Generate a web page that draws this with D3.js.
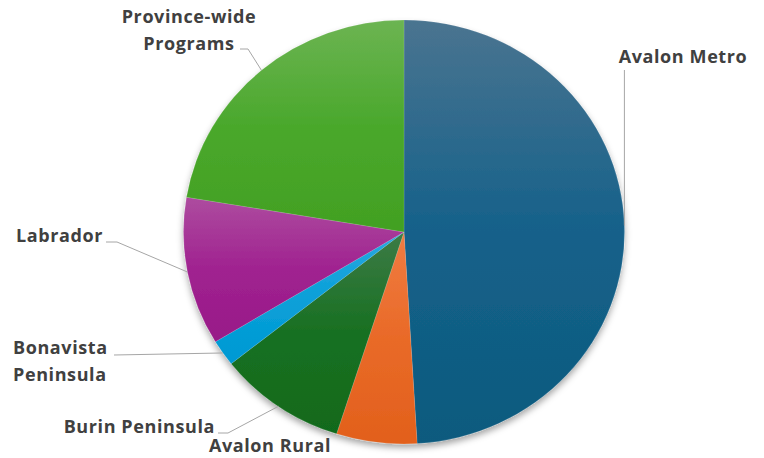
<!DOCTYPE html>
<html lang="en">
<head>
<meta charset="UTF-8">
<title>Pie chart</title>
<style>
  body { margin: 0; background: #fff; }
  svg { display: block; }
  .lbl { font-family: 'Open Sans', sans-serif; font-weight: 700; font-size: 18px; letter-spacing: 0.6px; fill: #404040; }
  .leader { fill: none; stroke: #a6a6a6; stroke-width: 1; }
</style>
</head>
<body>
<div id="chart"></div>
<script src="https://d3js.org/d3.v7.min.js"></script>
<script>
// data (percent of total, clockwise from 12 o'clock)
const categories = ["Avalon Metro", "Avalon Rural", "Burin Peninsula", "Bonavista Peninsula", "Labrador", "Province-wide Programs"];
const values = [49.1, 5.9, 9.4, 2.0, 11.3, 22.4];
const labelLines = [["Avalon Metro"], ["Avalon Rural"], ["Burin Peninsula"], ["Bonavista", "Peninsula"], ["Labrador"], ["Province-wide", "Programs"]];

// colours: top, middle, bottom of each slice gradient
const colors = [
  ["#4a7490", "#15618a", "#0c5a7e"],
  ["#f07c42", "#e96a28", "#e2601c"],
  ["#3d7b46", "#187022", "#116a1b"],
  ["#2aa8e0", "#0aa0d8", "#0099d3"],
  ["#ad4c9f", "#a02290", "#981a88"],
  ["#6cb452", "#4aa82c", "#42a022"]
];

// label layout: text anchor point, alignment, elbow
const labelLayout = [
  { x: 683, y: 63, anchor: "middle", vertical: true },
  { x: 270, y: 452, anchor: "middle", none: true },
  { x: 215, y: 433, anchor: "end", elbow: [228, 433] },
  { x: 13, y: 354, anchor: "start", elbow: [114, 355] },
  { x: 103, y: 242, anchor: "end", elbow: [117, 242] },
  { x: 189, y: 23, anchor: "middle", elbow: [248, 49], start: [240, 49] }
];

const W = 764, H = 458;
const cx = 404, cy = 232, rx = 220.5, ry = 212;

const svg = d3.select("#chart").append("svg")
  .attr("width", W).attr("height", H);

const defs = svg.append("defs");
const shadow = defs.append("filter").attr("id", "shadow")
  .attr("x", "-10%").attr("y", "-10%").attr("width", "120%").attr("height", "125%");
shadow.append("feDropShadow")
  .attr("dx", 0).attr("dy", 4).attr("stdDeviation", 3.5)
  .attr("flood-color", "#000").attr("flood-opacity", 0.35);

colors.forEach((c, i) => {
  const g = defs.append("linearGradient").attr("id", "grad" + i)
    .attr("x1", 0).attr("y1", 0).attr("x2", 0).attr("y2", 1);
  g.append("stop").attr("offset", "0%").attr("stop-color", c[0]);
  g.append("stop").attr("offset", "50%").attr("stop-color", c[1]);
  g.append("stop").attr("offset", "100%").attr("stop-color", c[2]);
});

const pie = d3.pie().sort(null).value(d => d)(values);
const arc = d3.arc().innerRadius(0).outerRadius(rx);

const pieG = svg.append("g")
  .attr("transform", `translate(${cx},${cy}) scale(1,${ry / rx})`)
  .attr("filter", "url(#shadow)");

pieG.selectAll("path")
  .data(pie)
  .enter()
  .append("path")
  .attr("d", arc)
  .attr("fill", (d, i) => `url(#grad${i})`)
  .attr("stroke", "rgba(255,255,255,0.25)")
  .attr("stroke-width", 0.5);

// point on the (elliptical) edge at the middle of a slice
function edgePoint(d) {
  const a = (d.startAngle + d.endAngle) / 2;
  return [cx + rx * Math.sin(a), cy - ry * Math.cos(a)];
}

pie.forEach((d, i) => {
  const L = labelLayout[i];
  const p = edgePoint(d);
  if (!L.none) {
    let pts;
    if (L.vertical) {
      pts = [[p[0], L.y + 7], p];
    } else if (L.start) {
      pts = [L.start, L.elbow, p];
    } else if (L.anchor === "start") {
      pts = [L.elbow, p];
    } else {
      pts = [[L.x + 3, L.elbow[1]], L.elbow, p];
    }
    svg.append("path").attr("class", "leader")
      .attr("d", d3.line()(pts));
  }
  const t = svg.append("text").attr("class", "lbl")
    .attr("text-anchor", L.anchor)
    .attr("x", L.x).attr("y", L.y);
  labelLines[i].forEach((s, k) => {
    t.append("tspan").attr("x", L.x).attr("dy", k === 0 ? 0 : 26.5).text(s);
  });
});
</script>
</body>
</html>
